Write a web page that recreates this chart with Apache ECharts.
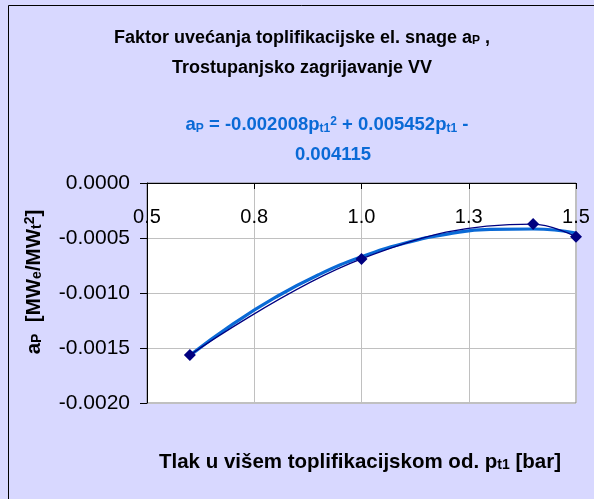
<!DOCTYPE html>
<html>
<head>
<meta charset="utf-8">
<script src="https://cdn.jsdelivr.net/npm/echarts@6/dist/echarts.min.js"></script>
<style>
  html, body { margin: 0; padding: 0; background: #d8d8ff; }
  #chart { width: 594px; height: 499px; }
</style>
</head>
<body>
<div id="chart"></div>
<script>
// Measured points: pressure p_t1 [bar] and factor a_P [MWe/MWt^2]
const pressure = [0.6, 1.0, 1.4, 1.5];
const factorAP = [-0.001564, -0.00069, -0.000373, -0.000488];

// Quadratic trendline, sampled along the pressure range
const trendPressure = [0.6, 0.7, 0.8, 0.9, 1.0, 1.1, 1.2, 1.3, 1.4, 1.5];
const trendAP = [-0.001567, -0.001283, -0.001038, -0.000834, -0.000671, -0.000548, -0.000465, -0.000421, -0.000418, -0.000455];

// Axis ticks
const xTicks = [0.5, 0.75, 1.0, 1.25, 1.5];
const yTicks = [-0.002, -0.0015, -0.001, -0.0005, 0];

const FONT = 'Liberation Sans, Arial, sans-serif';

// Rich-text styles: main text, subscript and superscript
function richSet(color, size) {
  const small = Math.round(size * 0.66);
  const off = Math.round(size * 0.33);
  return {
    m: { fontSize: size, fontWeight: 'bold', fontFamily: FONT, fill: color },
    s: { fontSize: small, fontWeight: 'bold', fontFamily: FONT, fill: color, verticalAlign: 'bottom', padding: [off, 0, 0, 0] },
    u: { fontSize: small, fontWeight: 'bold', fontFamily: FONT, fill: color, verticalAlign: 'top', padding: [0, 0, off, 0] }
  };
}

const chart = echarts.init(document.getElementById('chart'));
chart.setOption({
  backgroundColor: '#d8d8ff',
  animation: false,
  grid: {
    left: 147, top: 183, right: 18, bottom: 96,
    show: true, backgroundColor: '#ffffff', borderColor: '#808080', borderWidth: 1
  },
  xAxis: {
    type: 'value', position: 'top',
    min: xTicks[0], max: xTicks[xTicks.length - 1], interval: 0.25,
    axisLine: { onZero: false, lineStyle: { color: '#000', width: 1 } },
    axisTick: { inside: true, length: 6, lineStyle: { color: '#000' } },
    axisLabel: { inside: true, margin: 24, formatter: v => v.toFixed(1), color: '#000', fontSize: 20, fontFamily: FONT },
    splitLine: { lineStyle: { color: '#c0c0c0' } }
  },
  yAxis: {
    type: 'value',
    min: yTicks[0], max: yTicks[yTicks.length - 1], interval: 0.0005,
    axisLine: { show: true, lineStyle: { color: '#000', width: 1 } },
    axisTick: { show: true, length: 7, lineStyle: { color: '#000' } },
    axisLabel: { margin: 17, formatter: v => v.toFixed(4), color: '#000', fontSize: 21, fontFamily: FONT },
    splitLine: { lineStyle: { color: '#c0c0c0' } }
  },
  series: [
    {
      type: 'line', name: 'trend',
      data: trendPressure.map((p, i) => [p, trendAP[i]]),
      smooth: true, showSymbol: false,
      lineStyle: { color: '#0a6ad6', width: 3.2 }, z: 2
    },
    {
      type: 'line', name: 'a_P',
      data: pressure.map((p, i) => [p, factorAP[i]]),
      smooth: 0.4, symbol: 'diamond', symbolSize: 12,
      itemStyle: { color: '#000080' },
      lineStyle: { color: '#000080', width: 1.3 }, z: 3
    }
  ],
  graphic: [
    { type: 'rect', shape: { x: 8.5, y: 5.5, width: 600, height: 600 }, style: { fill: 'none', stroke: '#000', lineWidth: 1 }, silent: true, z: -1 },
    {
      type: 'text', silent: true,
      style: {
        x: 302, y: 38, align: 'center', verticalAlign: 'middle',
        text: '{m|Faktor uvećanja toplifikacijske el. snage a}{s|P}{m| ,}',
        rich: richSet('#000', 18)
      }
    },
    {
      type: 'text', silent: true,
      style: { x: 302, y: 68, align: 'center', verticalAlign: 'middle', text: 'Trostupanjsko zagrijavanje VV',
        fontSize: 18, fontWeight: 'bold', fontFamily: FONT, fill: '#000' }
    },
    {
      type: 'text', silent: true,
      style: {
        x: 327, y: 125, align: 'center', verticalAlign: 'middle',
        text: '{m|a}{s|P}{m| = -0.002008p}{s|t1}{u|2}{m| + 0.005452p}{s|t1}{m| -}',
        rich: richSet('#0a6ad6', 18.5)
      }
    },
    {
      type: 'text', silent: true,
      style: { x: 333, y: 155, align: 'center', verticalAlign: 'middle', text: '0.004115',
        fontSize: 18.5, fontWeight: 'bold', fontFamily: FONT, fill: '#0a6ad6' }
    },
    {
      type: 'text', silent: true,
      style: {
        x: 360, y: 462, align: 'center', verticalAlign: 'middle',
        text: '{m|Tlak u višem toplifikacijskom od. p}{s|t1}{m| [bar]}',
        rich: richSet('#000', 20.5)
      }
    },
    {
      type: 'text', silent: true, x: 34, y: 282, rotation: Math.PI / 2,
      style: {
        x: 0, y: 0, align: 'center', verticalAlign: 'middle',
        text: '{m|a}{s|P}{m|  [MW}{s|e}{m|/MW}{s|t}{u|2}{m|]}',
        rich: richSet('#000', 20.5)
      }
    }
  ]
});
</script>
</body>
</html>
